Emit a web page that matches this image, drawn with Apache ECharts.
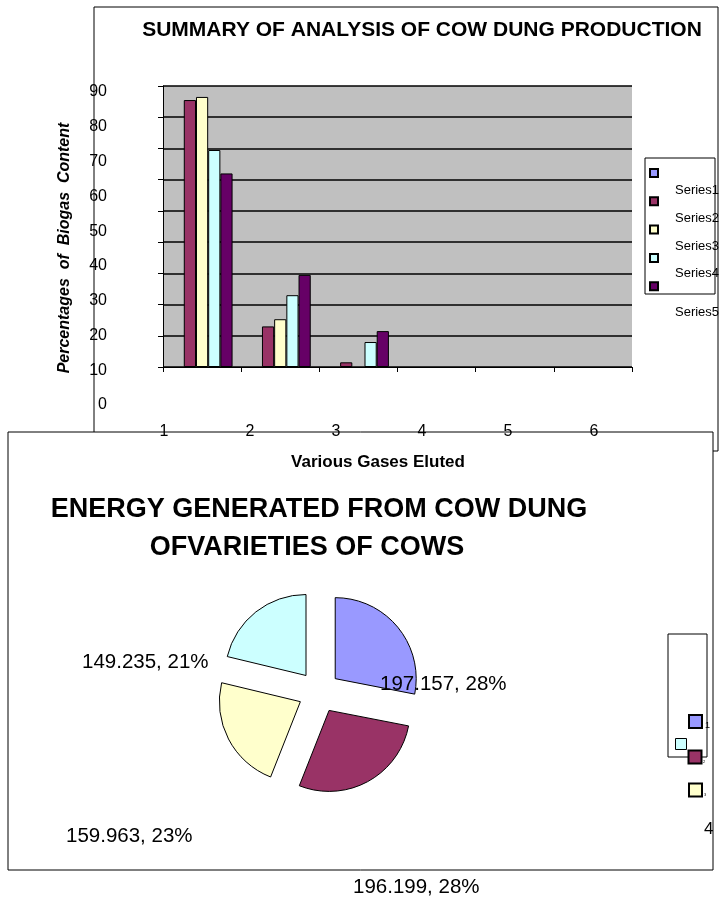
<!DOCTYPE html>
<html>
<head>
<meta charset="utf-8">
<script src="https://cdn.jsdelivr.net/npm/echarts@6/dist/echarts.min.js"></script>
<style>
  html, body { margin: 0; padding: 0; background: #fff; }
  #main { width: 722px; height: 905px; }
</style>
</head>
<body>
<div id="main"></div>
<script>
// bar chart data (percent of biogas content per gas)
var gasCategories = ['1', '2', '3', '4', '5', '6'];
var seriesNames = ['Series1', 'Series2', 'Series3', 'Series4', 'Series5'];
var series1 = [null, null, null, null, null, null];
var series2 = [85.5, 13, 1.5, null, null, null];
var series3 = [86.5, 15.3, null, null, null, null];
var series4 = [69.5, 23, 8, null, null, null];
var series5 = [62, 29.5, 11.5, null, null, null];
var barColors = ['#9999ff', '#993366', '#ffffcc', '#ccffff', '#660066'];

// the stray tick labels of the bar chart
var xTickLabels = ['1', '2', '3', '4', '5', '6'];

// pie chart data (energy generated)
var pieNames = ['1', '2', '3', '4'];
var pieValues = [197.157, 196.199, 159.963, 149.235];
var pieColors = ['#9999ff', '#993366', '#ffffcc', '#ccffff'];
// where each pie label ends up (left x, middle y)
var pieLabelPos = [[380, 684], [353, 887], [66, 836], [82, 662]];

var chart = echarts.init(document.getElementById('main'));
var font = 'Liberation Sans';

var barData = [series1, series2, series3, series4, series5];
var allSeries = [];
for (var i = 0; i < seriesNames.length; i++) {
    allSeries.push({
        name: seriesNames[i],
        type: 'bar',
        xAxisIndex: 0,
        yAxisIndex: 0,
        data: barData[i],
        barGap: 0,
        barCategoryGap: '22%',
        itemStyle: { color: barColors[i], borderColor: '#000', borderWidth: 1 }
    });
}

var pieData = [];
for (var j = 0; j < pieValues.length; j++) {
    pieData.push({
        name: pieNames[j],
        value: pieValues[j],
        selected: true,
        itemStyle: { color: pieColors[j] }
    });
}

allSeries.push({
    type: 'pie',
    center: [319, 692],
    radius: 81,
    startAngle: 90,
    selectedMode: 'multiple',
    selectedOffset: 21,
    data: pieData,
    itemStyle: { borderColor: '#000', borderWidth: 1 },
    label: { show: false },
    labelLine: { show: false },
    emphasis: { disabled: true }
});

// pie labels sit far from their slices, so they are placed by hand
var pieTotal = 0;
for (var t = 0; t < pieValues.length; t++) pieTotal += pieValues[t];
var pieLabels = [];
for (var m = 0; m < pieValues.length; m++) {
    pieLabels.push({
        type: 'text', z: 10, x: pieLabelPos[m][0], y: pieLabelPos[m][1],
        style: {
            text: pieValues[m] + ', ' + Math.round(pieValues[m] / pieTotal * 100) + '%',
            fill: '#000', font: '20.5px ' + font, verticalAlign: 'middle'
        }
    });
}

var legendLabels = [];
var legendLabelY = [190, 218, 246, 273, 312];
for (var k = 0; k < seriesNames.length; k++) {
    legendLabels.push({
        type: 'text', z: 10, x: 675, y: legendLabelY[k],
        style: { text: seriesNames[k], fill: '#000', font: '13px ' + font, verticalAlign: 'middle' }
    });
}

function line(x1, y1, x2, y2, w) {
    return {
        type: 'line',
        shape: { x1: x1, y1: y1, x2: x2, y2: y2 },
        style: { stroke: '#000', lineWidth: w || 1 },
        z: 10
    };
}

function box(x, y, size, color, w) {
    return {
        type: 'rect',
        shape: { x: x - size / 2, y: y - size / 2, width: size, height: size },
        style: { fill: color, stroke: '#000', lineWidth: w },
        z: 10
    };
}

var option = {
    animation: false,
    backgroundColor: '#fff',
    textStyle: { fontFamily: font },
    grid: [
        { left: 163, top: 86, width: 469, height: 281, show: true, backgroundColor: '#c0c0c0', borderWidth: 0 },
        { left: 107, top: 92, width: 1, height: 313 },
        { left: 164, top: 400, width: 430, height: 21 }
    ],
    legend: {
        data: seriesNames,
        orient: 'vertical',
        left: 649,
        top: 168,
        padding: 0,
        itemWidth: 8,
        itemHeight: 8,
        itemGap: 18.3,
        icon: 'rect',
        formatter: function () { return ''; },
        textStyle: { fontSize: 8, lineHeight: 8 },
        selectedMode: false
    },
    xAxis: [
        {
            gridIndex: 0, type: 'category', data: gasCategories,
            axisLine: { lineStyle: { color: '#000', width: 1 } },
            axisTick: { show: true, length: 5, lineStyle: { color: '#000' } },
            axisLabel: { show: false }
        },
        { gridIndex: 1, type: 'value', show: false },
        {
            gridIndex: 2, type: 'category', data: xTickLabels, boundaryGap: false,
            axisLine: { show: false }, axisTick: { show: false },
            axisLabel: { margin: 3, color: '#000', fontSize: 16, fontFamily: font }
        }
    ],
    yAxis: [
        {
            gridIndex: 0, type: 'value', min: 0, max: 90, interval: 10,
            axisLine: { show: true, lineStyle: { color: '#000' } },
            axisTick: { show: true, length: 5, lineStyle: { color: '#000' } },
            axisLabel: { show: false },
            splitLine: { lineStyle: { color: '#000', width: 1.5 } }
        },
        {
            gridIndex: 1, type: 'value', min: 0, max: 90, interval: 10,
            axisLine: { show: false }, axisTick: { show: false }, splitLine: { show: false },
            axisLabel: { margin: 0, color: '#000', fontSize: 16, fontFamily: font }
        },
        { gridIndex: 2, type: 'value', show: false }
    ],
    series: allSeries,
    graphic: [
        // frame of the bar chart
        line(94, 7, 718, 7), line(94, 7, 94, 432), line(718, 7, 718, 451), line(713, 451, 718, 451),
        // frame of the pie chart
        line(8, 432, 713, 432), line(8, 432, 8, 870), line(713, 432, 713, 870), line(8, 870, 713, 870),
        // bar legend box
        { type: 'rect', shape: { x: 645, y: 158, width: 70, height: 136 }, style: { fill: 'none', stroke: '#000', lineWidth: 1 }, z: 10 },
        {
            type: 'text', z: 10, x: 422, y: 30,
            style: { text: 'SUMMARY OF ANALYSIS OF COW DUNG PRODUCTION', fill: '#000', font: 'bold 21px ' + font, align: 'center', verticalAlign: 'middle' }
        },
        {
            type: 'text', z: 10, rotation: Math.PI / 2, x: 65, y: 248,
            style: { text: 'Percentages  of  Biogas  Content', fill: '#000', font: 'italic bold 16px ' + font, align: 'center', verticalAlign: 'middle' }
        },
        {
            type: 'text', z: 10, x: 378, y: 462,
            style: { text: 'Various Gases Eluted', fill: '#000', font: 'bold 17px ' + font, align: 'center', verticalAlign: 'middle' }
        },
        {
            type: 'text', z: 10, x: 319, y: 510,
            style: { text: 'ENERGY GENERATED FROM COW DUNG', fill: '#000', font: 'bold 27px ' + font, align: 'center', verticalAlign: 'middle' }
        },
        {
            type: 'text', z: 10, x: 307, y: 548,
            style: { text: 'OFVARIETIES OF COWS', fill: '#000', font: 'bold 27px ' + font, align: 'center', verticalAlign: 'middle' }
        },
        // broken pie legend
        { type: 'rect', shape: { x: 668, y: 634, width: 39, height: 123 }, style: { fill: 'none', stroke: '#000', lineWidth: 1 }, z: 10 },
        box(695.5, 721.5, 13, pieColors[0], 2),
        box(681, 744, 11, pieColors[3], 1),
        box(695, 757, 13, pieColors[1], 2),
        box(695.5, 790, 13, pieColors[2], 2),
        { type: 'text', z: 10, x: 705, y: 726, style: { text: '1', fill: '#000', font: '9px ' + font, verticalAlign: 'middle' } },
        { type: 'text', z: 10, x: 703, y: 762, style: { text: '2', fill: '#000', font: '4px ' + font, verticalAlign: 'middle' } },
        { type: 'text', z: 10, x: 704, y: 795, style: { text: '3', fill: '#000', font: '4px ' + font, verticalAlign: 'middle' } },
        { type: 'text', z: 10, x: 704, y: 829, style: { text: '4', fill: '#000', font: '17px ' + font, verticalAlign: 'middle' } }
    ].concat(legendLabels, pieLabels)
};

chart.setOption(option);
</script>
</body>
</html>
